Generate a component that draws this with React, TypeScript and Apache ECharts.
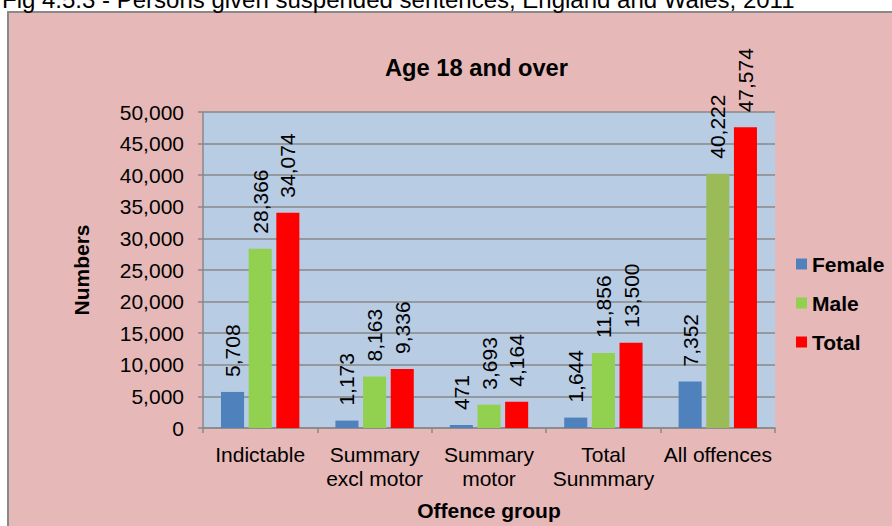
import React, { useEffect, useRef } from "react";
import * as echarts from "echarts";

const categories = ["Indictable", "Summary\nexcl motor", "Summary\nmotor", "Total\nSunmmary", "All offences"];
const femaleValues = [5708, 1173, 471, 1644, 7352];
const maleValues = [28366, 8163, 3693, 11856, 40222];
const totalValues = [34074, 9336, 4164, 13500, 47574];
const seriesNames = ["Female", "Male", "Total"];
const yTicks = { min: 0, max: 50000, interval: 5000 };

const FONT = 'Arial, "Liberation Sans", sans-serif';
const fmt = (v: number) => v.toLocaleString("en-US");

export default function App() {
  const ref = useRef<HTMLDivElement>(null);
  useEffect(() => {
    if (!ref.current) return;
    const chart = echarts.init(ref.current, null, { renderer: "svg" });
    const label = {
      show: true,
      position: "top",
      rotate: 90,
      align: "left",
      verticalAlign: "middle",
      distance: 15,
      fontSize: 21,
      fontFamily: FONT,
      color: "#000",
      formatter: (p: any) => fmt(p.value),
    };
    chart.setOption({
      animation: false,
      backgroundColor: "#ffffff",
      textStyle: { fontFamily: FONT },
      graphic: [
        {
          type: "rect",
          z: -10,
          silent: true,
          shape: { x: 8, y: 12, width: 900, height: 600 },
          style: { fill: "#E6B8B7", stroke: "#898989", lineWidth: 2 },
        },
        {
          type: "text",
          x: 2,
          y: -1,
          style: {
            text: "Fig 4.5.3 - Persons given suspended sentences, England and Wales, 2011",
            fontSize: 24,
            fontFamily: FONT,
            fill: "#000",
            verticalAlign: "middle",
            align: "left",
          },
        },
        {
          type: "text",
          x: 476.5,
          y: 67.5,
          style: {
            text: "Age 18 and over",
            fontSize: 23.7,
            fontWeight: "bold",
            fontFamily: FONT,
            fill: "#000",
            align: "center",
            verticalAlign: "middle",
          },
        },
      ],
      grid: {
        left: 203,
        right: 117,
        top: 112,
        bottom: 94,
        show: true,
        backgroundColor: "#B8CCE4",
        borderWidth: 0,
      },
      legend: {
        orient: "vertical",
        left: 791,
        top: 248.5,
        itemWidth: 11,
        itemHeight: 11,
        itemGap: 18,
        icon: "rect",
        data: seriesNames,
        textStyle: { fontSize: 21, fontWeight: "bold", fontFamily: FONT, color: "#000" },
      },
      xAxis: {
        type: "category",
        data: categories,
        name: "Offence group",
        nameLocation: "middle",
        nameGap: 72,
        nameTextStyle: { fontSize: 21, fontWeight: "bold", fontFamily: FONT, color: "#000" },
        axisLine: { lineStyle: { color: "#898989", width: 1.5 } },
        axisTick: { show: true, inside: false, length: 5, lineStyle: { color: "#898989", width: 1.5 } },
        axisLabel: { interval: 0, fontSize: 21, lineHeight: 24, margin: 14, color: "#000", fontFamily: FONT },
      },
      yAxis: {
        type: "value",
        min: yTicks.min,
        max: yTicks.max,
        interval: yTicks.interval,
        name: "Numbers",
        nameLocation: "middle",
        nameGap: 111,
        nameRotate: 90,
        nameTextStyle: { fontSize: 21, fontWeight: "bold", fontFamily: FONT, color: "#000" },
        axisLine: { show: true, lineStyle: { color: "#898989", width: 1.5 } },
        axisTick: { show: true, inside: false, length: 5, lineStyle: { color: "#898989", width: 1.5 } },
        splitLine: { show: true, lineStyle: { color: "#898989", width: 1.5 } },
        axisLabel: { fontSize: 21, margin: 19, color: "#000", fontFamily: FONT, formatter: (v: number) => fmt(v) },
      },
      series: [
        {
          name: seriesNames[0],
          type: "bar",
          data: femaleValues,
          itemStyle: { color: "#4F81BD" },
          barGap: "20%",
          barCategoryGap: "31.5%",
          label,
        },
        {
          name: seriesNames[1],
          type: "bar",
          data: maleValues.map((v, i) =>
            i === maleValues.length - 1 ? { value: v, itemStyle: { color: "#9BBB59" } } : v
          ),
          itemStyle: { color: "#92D050" },
          barGap: "20%",
          barCategoryGap: "31.5%",
          label,
        },
        {
          name: seriesNames[2],
          type: "bar",
          data: totalValues,
          itemStyle: { color: "#FF0000" },
          barGap: "20%",
          barCategoryGap: "31.5%",
          label,
        },
      ],
    });
    return () => chart.dispose();
  }, []);
  return <div ref={ref} style={{ position: "fixed", left: 0, top: 0, width: 892, height: 526 }} />;
}
